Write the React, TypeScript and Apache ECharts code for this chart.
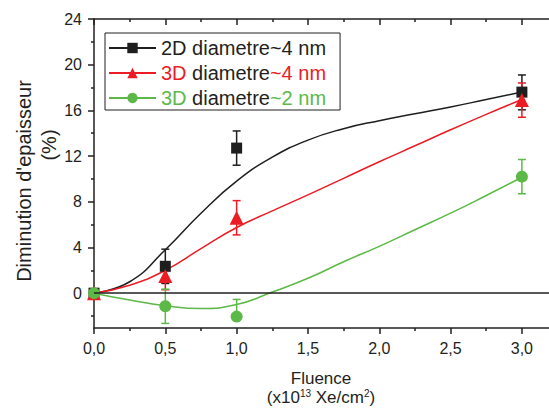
import React, { useEffect, useRef } from "react";
import * as echarts from "echarts";

// ---- measured data points ----
const fluence = [0, 0.5, 1.0, 3.0];
const val2D4 = [0, 2.35, 12.7, 17.6];
const err2D4Low = [0, 1.5, 1.5, 1.55];
const err2D4High = [0, 1.5, 1.5, 1.5];
const val3D4 = [0, 1.5, 6.6, 16.9];
const err3D4Low = [0, 1.2, 1.5, 1.5];
const err3D4High = [0, 1.2, 1.5, 1.5];
const val3D2 = [0, -1.15, -2.05, 10.2];
const err3D2Low = [0, 1.5, 0, 1.5];
const err3D2High = [0, 1.5, 1.5, 1.5];

// ---- fitted curves ----
const fitX = [0, 0.25, 0.5, 0.75, 1.0, 1.25, 1.5, 1.75, 2.0, 2.25, 2.5, 2.75, 3.0];
const fit2D4 = [0, 1.0, 3.8, 7.0, 9.8, 11.9, 13.4, 14.4, 15.1, 15.7, 16.3, 16.95, 17.6];
const fit3D4 = [0, 0.7, 2.0, 3.9, 5.75, 7.2, 8.6, 10.05, 11.5, 12.9, 14.3, 15.65, 16.95];
const fit3D2 = [0, -0.6, -1.1, -1.35, -1.0, 0.1, 1.3, 2.75, 4.1, 5.55, 7.0, 8.55, 10.15];

// ---- ticks ----
const xMajor = [0, 0.5, 1.0, 1.5, 2.0, 2.5, 3.0];
const xMinor = [0.25, 0.75, 1.25, 1.75, 2.25, 2.75];
const yMajor = [0, 4, 8, 12, 16, 20, 24];
const yMinor = [-2, 2, 6, 10, 14, 18, 22];

const names = ["2D diametre~4 nm", "3D diametre~4 nm", "3D diametre~2 nm"];
const colors = ["#1e1e1e", "#ec1c24", "#5db947"];
const symbols = ["rect", "triangle", "circle"];
const symbolSizes = [11, 14, 12];

const AXIS = "#231f20";
const FONT = "'Liberation Sans', Arial, sans-serif";

export default function App() {
  const ref = useRef<HTMLDivElement>(null);
  useEffect(() => {
    if (!ref.current) return;
    const chart = echarts.init(ref.current, null, { renderer: "svg" });

    const vals = [val2D4, val3D4, val3D2];
    const lows = [err2D4Low, err3D4Low, err3D2Low];
    const highs = [err2D4High, err3D4High, err3D2High];
    const fits = [fit2D4, fit3D4, fit3D2];

    const series: any[] = [];
    // fitted curves
    fits.forEach((f, i) => {
      series.push({
        name: names[i],
        type: "line",
        smooth: 0.5,
        showSymbol: false,
        symbol: symbols[i],
        symbolSize: symbolSizes[i],
        data: fitX.map((x, k) => [x, f[k]]),
        lineStyle: { color: colors[i], width: 1.5 },
        itemStyle: { color: colors[i] },
        z: 2,
        ...(i === 0
          ? {
              markLine: {
                silent: true,
                symbol: "none",
                label: { show: false },
                lineStyle: { color: AXIS, width: 1.5, type: "solid" },
                data: [{ yAxis: 0 }],
              },
            }
          : {}),
      });
    });
    // error bars
    vals.forEach((v, i) => {
      series.push({
        type: "custom",
        z: 3,
        data: fluence.map((x, k) => [x, v[k] - lows[i][k], v[k] + highs[i][k]]),
        encode: { x: 0, y: [1, 2] },
        renderItem: (params: any, api: any) => {
          const x = api.value(0);
          const lo = api.value(1);
          const hi = api.value(2);
          if (hi - lo === 0) return { type: "group", children: [] };
          const p1 = api.coord([x, hi]);
          const p2 = api.coord([x, lo]);
          const w = 4;
          const st = { stroke: colors[i], lineWidth: 1.5 };
          const children: any[] = [
            { type: "line", shape: { x1: p1[0], y1: p1[1], x2: p2[0], y2: p2[1] }, style: st },
            { type: "line", shape: { x1: p1[0] - w, y1: p1[1], x2: p1[0] + w, y2: p1[1] }, style: st },
          ];
          if (lows[i][params.dataIndex] > 0) {
            children.push({ type: "line", shape: { x1: p2[0] - w, y1: p2[1], x2: p2[0] + w, y2: p2[1] }, style: st });
          }
          return { type: "group", children };
        },
      });
    });
    // markers
    vals.forEach((v, i) => {
      series.push({
        type: "scatter",
        z: 4,
        symbol: symbols[i],
        symbolSize: symbolSizes[i],
        itemStyle: { color: colors[i], opacity: 1 },
        data: fluence.map((x, k) => [x, v[k]]),
      });
    });

    const axisLineStyle = { color: AXIS, width: 1.5 };
    const xRange = { min: 0, max: 3.19 };
    const yRange = { min: -3.05, max: 24 };

    chart.setOption({
      animation: false,
      backgroundColor: "#ffffff",
      grid: { left: 94, top: 19, right: 0, bottom: 84, containLabel: false },
      legend: {
        data: names,
        left: 105,
        top: 33,
        orient: "vertical",
        backgroundColor: "#ffffff",
        borderColor: AXIS,
        borderWidth: 1,
        borderRadius: 0,
        padding: [5, 14, 2, 3],
        itemGap: 5,
        itemWidth: 47,
        itemHeight: 13,
        selectedMode: false,
        formatter: (name: string) => {
          if (name === names[0]) return "{k|2D diametre~4 nm}";
          if (name === names[1]) return "{r|3D}{k| diametre}{r|~4 nm}";
          return "{g|3D}{k| diametre}{g|~2 nm}";
        },
        textStyle: {
          fontFamily: FONT,
          fontSize: 20,
          lineHeight: 20,
          rich: {
            k: { color: "#231f20", fontSize: 20, fontFamily: FONT, lineHeight: 20 },
            r: { color: colors[1], fontSize: 20, fontFamily: FONT, lineHeight: 20 },
            g: { color: colors[2], fontSize: 20, fontFamily: FONT, lineHeight: 20 },
          },
        },
      },
      xAxis: [
        {
          type: "value",
          position: "bottom",
          ...xRange,
          axisLine: { show: true, onZero: false, lineStyle: axisLineStyle },
          axisTick: { show: true, inside: false, length: 6, customValues: xMajor, lineStyle: axisLineStyle },
          axisLabel: {
            customValues: xMajor,
            margin: 12,
            fontSize: 16,
            fontFamily: FONT,
            color: AXIS,
            formatter: (v: number) => v.toFixed(1).replace(".", ","),
          },
          splitLine: { show: false },
        },
        {
          type: "value",
          position: "bottom",
          ...xRange,
          axisLine: { show: false, onZero: false },
          axisTick: { show: true, inside: false, length: 3, customValues: xMinor, lineStyle: axisLineStyle },
          axisLabel: { show: false },
          splitLine: { show: false },
        },
        {
          type: "value",
          position: "top",
          ...xRange,
          axisLine: { show: true, onZero: false, lineStyle: axisLineStyle },
          axisTick: { show: true, inside: true, length: 6, customValues: xMajor, lineStyle: axisLineStyle },
          axisLabel: { show: false },
          splitLine: { show: false },
        },
        {
          type: "value",
          position: "top",
          ...xRange,
          axisLine: { show: false, onZero: false },
          axisTick: { show: true, inside: true, length: 3, customValues: xMinor, lineStyle: axisLineStyle },
          axisLabel: { show: false },
          splitLine: { show: false },
        },
      ],
      yAxis: [
        {
          type: "value",
          position: "left",
          ...yRange,
          axisLine: { show: true, onZero: false, lineStyle: axisLineStyle },
          axisTick: { show: true, inside: false, length: 6, customValues: yMajor, lineStyle: axisLineStyle },
          axisLabel: {
            customValues: yMajor,
            margin: 12,
            fontSize: 16,
            fontFamily: FONT,
            color: AXIS,
          },
          splitLine: { show: false },
        },
        {
          type: "value",
          position: "left",
          ...yRange,
          axisLine: { show: false, onZero: false },
          axisTick: { show: true, inside: false, length: 3, customValues: yMinor, lineStyle: axisLineStyle },
          axisLabel: { show: false },
          splitLine: { show: false },
        },
      ],
      graphic: [
        {
          type: "text",
          x: 24,
          y: 181,
          rotation: Math.PI / 2,
          style: {
            text: "Diminution d'epaisseur",
            fontSize: 20,
            fontFamily: FONT,
            fill: AXIS,
            align: "center",
            verticalAlign: "middle",
          },
        },
        {
          type: "text",
          x: 49,
          y: 145,
          rotation: Math.PI / 2,
          style: {
            text: "(%)",
            fontSize: 20,
            fontFamily: FONT,
            fill: AXIS,
            align: "center",
            verticalAlign: "middle",
          },
        },
        {
          type: "text",
          x: 321,
          y: 378,
          style: {
            text: "Fluence",
            fontSize: 17,
            fontFamily: FONT,
            fill: AXIS,
            align: "center",
            verticalAlign: "middle",
          },
        },
        {
          type: "text",
          x: 321,
          y: 397,
          style: {
            text: "(x10{s|13} Xe/cm{s|2})",
            fontSize: 17,
            fontFamily: FONT,
            fill: AXIS,
            align: "center",
            verticalAlign: "middle",
            rich: {
              s: { fontSize: 10, fontFamily: FONT, fill: AXIS, verticalAlign: "top", padding: [0, 0, 5, 0] },
            },
          },
        },
      ],
      series,
    });
    return () => chart.dispose();
  }, []);
  return (
    <div
      ref={ref}
      style={{ position: "fixed", left: 0, top: 0, width: 549, height: 412, background: "#fff" }}
    />
  );
}
